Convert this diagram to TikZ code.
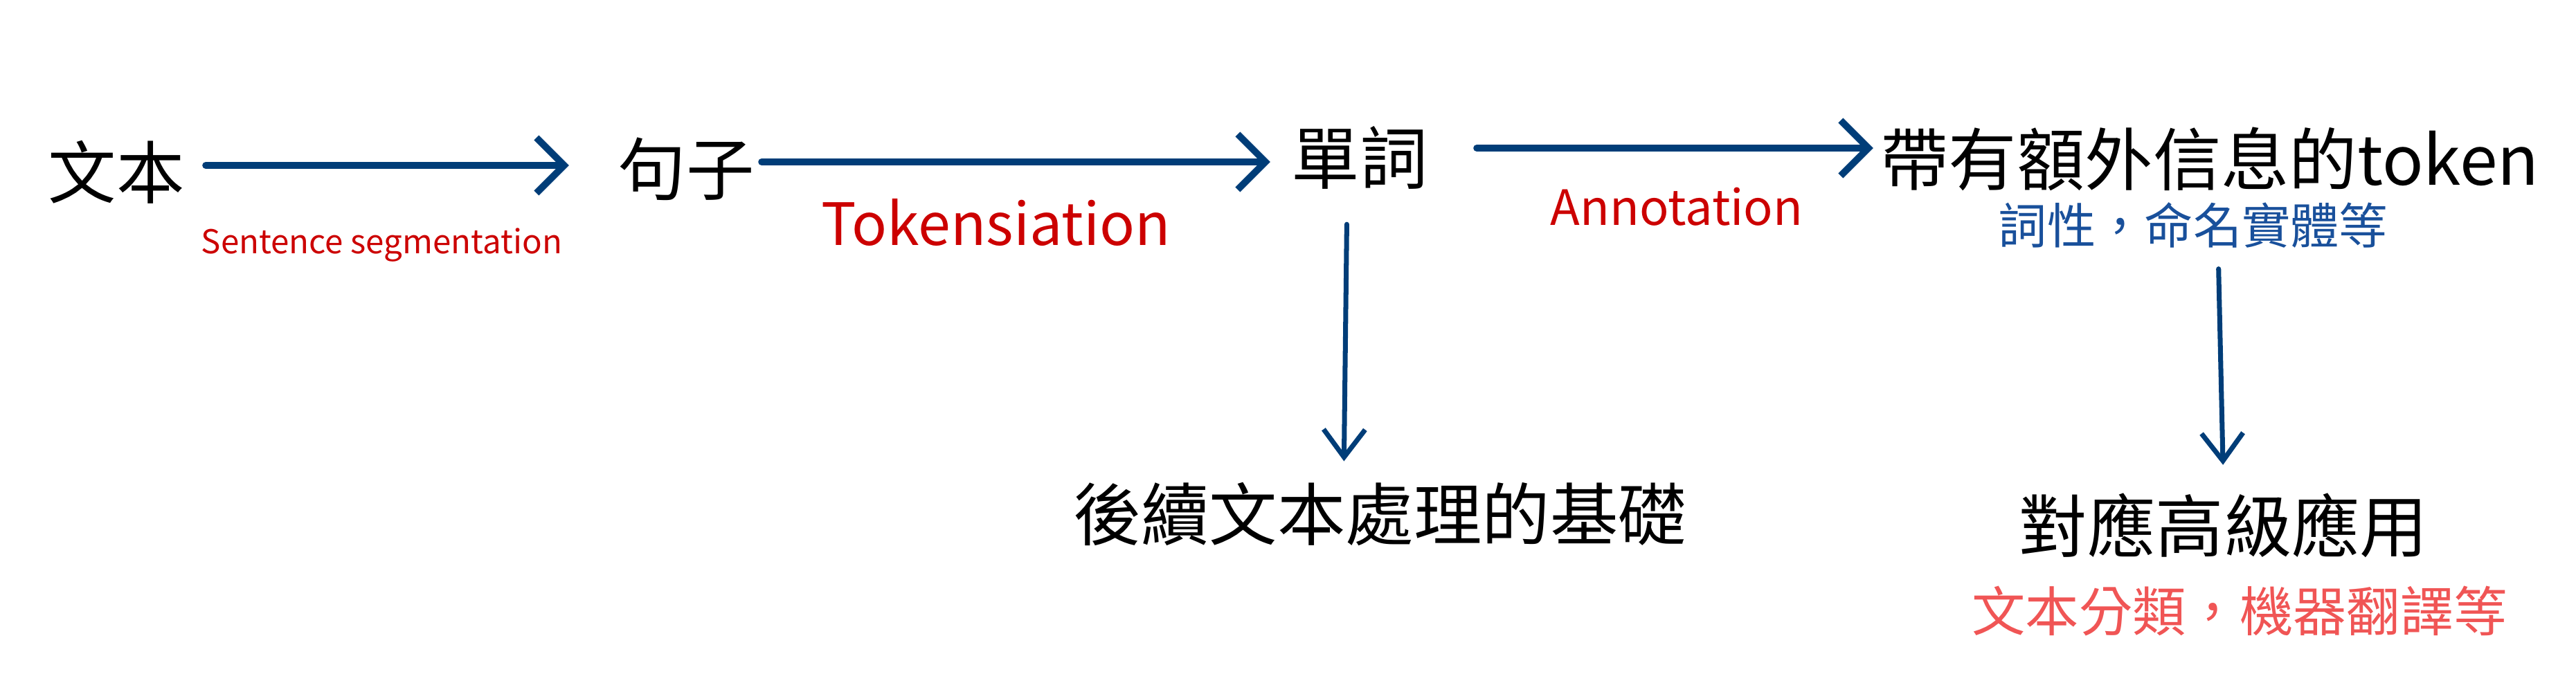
\documentclass[tikz,border=0pt]{standalone}
\usepackage{fontspec}
\setmainfont{Noto Sans CJK TC}
\usepackage{xcolor}
\definecolor{flowblue}{RGB}{0,61,120}
\definecolor{flowred}{RGB}{204,0,0}
\definecolor{noteblue}{RGB}{25,80,155}
\definecolor{appred}{RGB}{240,85,85}
\usetikzlibrary{arrows.meta,positioning}
\tikzset{
  word/.style={inner sep=0pt,font=\fontsize{28}{32}\selectfont,text=black},
  note/.style={inner sep=0pt,font=\fontsize{20}{24}\selectfont,text=noteblue},
  app/.style={inner sep=0pt,font=\fontsize{22}{26}\selectfont,text=appred},
  lab/.style={inner sep=0pt,text=flowred},
  arr/.style={-{Straight Barb[length=4mm,width=8mm,line width=2.8pt]},line width=2.8pt,draw=flowblue,line cap=round},
  darr/.style={-{Straight Barb[length=4mm,width=6mm,line width=2pt]},line width=2pt,draw=flowblue,line cap=round},
}

\begin{document}
\begin{tikzpicture}
    \useasboundingbox (0,0) rectangle (37.21,-10);
    % main chain
    \node[word] (wenben) at (1.68,-2.49) {文本};
    \node[word] (juzi) at (9.91,-2.44) {句子};
    \node[word] (danci) at (19.64,-2.28) {單詞};
    \node[word] (token) at (31.92,-2.30) {帶有額外信息的token};
    \node[note] (cixing) at (31.68,-3.25) {詞性，命名實體等};
    % results
    \node[word] (jichu) at (19.93,-7.43) {後續文本處理的基礎};
    \node[word] (yingyong) at (32.12,-7.59) {對應高級應用};
    \node[app] (fenlei) at (32.35,-8.83) {文本分類，機器翻譯等};
    % arrows
    \draw[arr,shorten <=3mm,shorten >=7mm] ([yshift=1mm]wenben.east) -- ([yshift=1mm]wenben.east -| juzi.west)
      node[lab,pos=0.455,below=8.6mm,font=\fontsize{13.5}{16}\selectfont]{Sentence segmentation};
    \draw[arr,shorten <=1mm,shorten >=3mm] ([yshift=1mm]juzi.east) -- ([yshift=1mm]juzi.east -| danci.west)
      node[lab,pos=0.45,below=4.8mm,font=\fontsize{24}{28}\selectfont]{Tokensiation};
    \draw[arr,shorten <=7mm,shorten >=1mm] ([yshift=1.4mm]danci.east) -- ([yshift=1.4mm]danci.east -| token.west)
      node[lab,pos=0.55,below=5.2mm,font=\fontsize{20}{24}\selectfont]{Annotation};
    \draw[darr,shorten <=5mm,shorten >=3mm] ([xshift=-1.8mm]danci.south) -- ([xshift=-5.2mm]jichu.north);
    \draw[darr,shorten <=3mm,shorten >=4mm] ([xshift=3.6mm]cixing.south) -- (yingyong.north);
\end{tikzpicture}
\end{document}
